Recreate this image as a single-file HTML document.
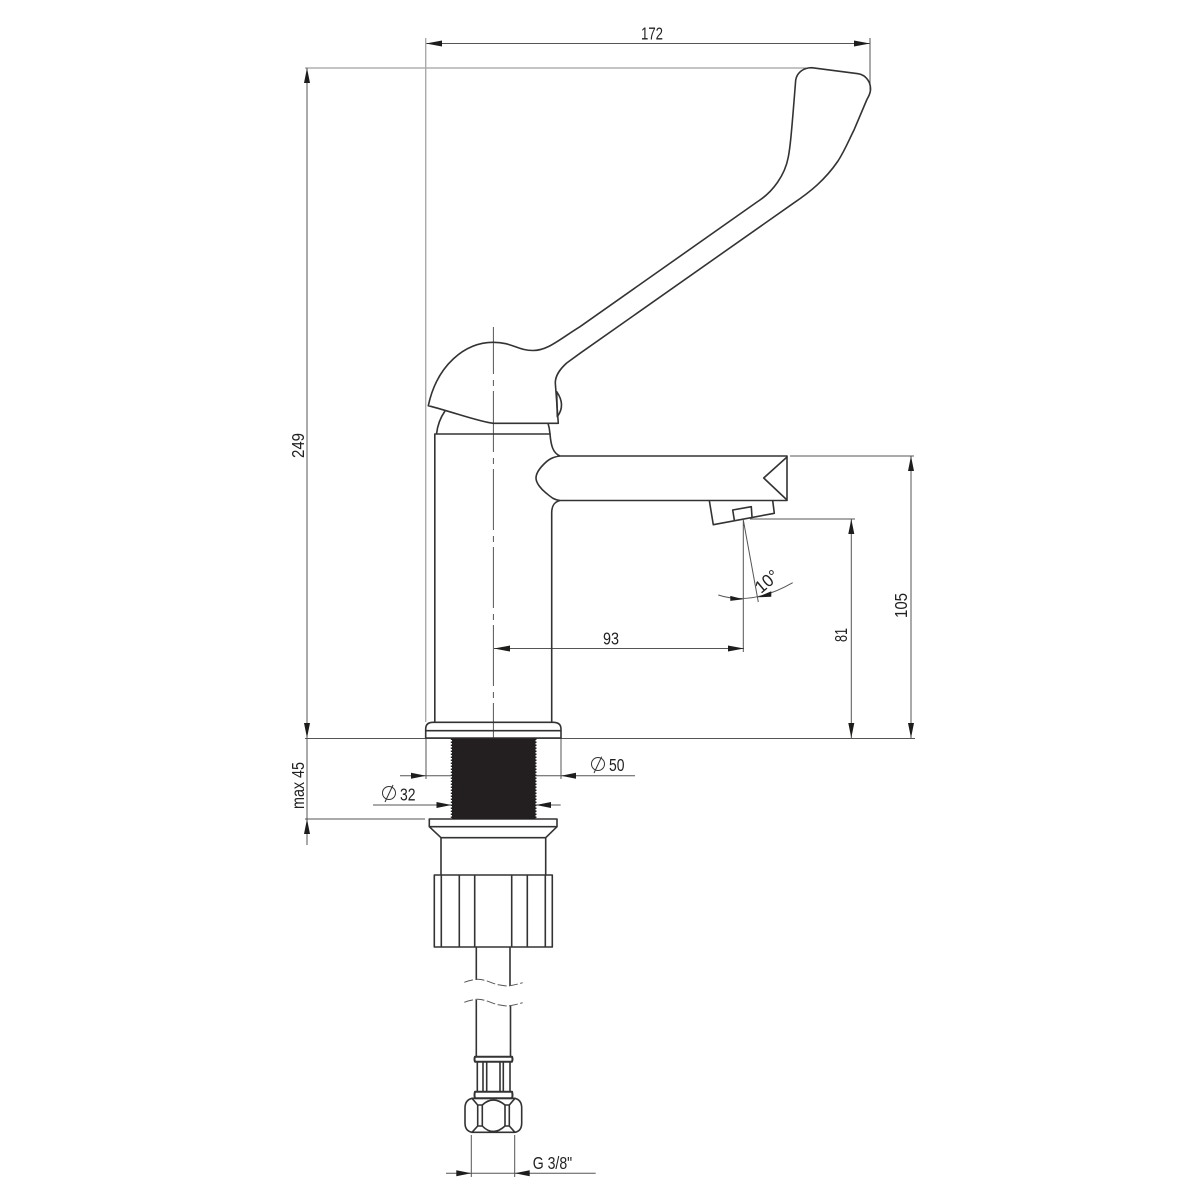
<!DOCTYPE html>
<html><head><meta charset="utf-8"><style>html,body{margin:0;padding:0;background:#fff}svg{display:block}text{font-family:"Liberation Sans",sans-serif;font-size:17.5px;fill:#222}</style></head><body>
<svg width="1200" height="1200" viewBox="0 0 1200 1200" xmlns="http://www.w3.org/2000/svg">
<rect width="1200" height="1200" fill="#fff"/>
<!-- dimension lines -->
<g fill="none" stroke="#555" stroke-width="1">
<path d="M426 43.5H870M870 38V90"/>
<path d="M305 68H806" stroke="#888"/>
<path d="M307 68V845"/>
<path d="M305 738.5H915"/>
<path d="M305 819H425"/>
<path d="M790 456H914M911 456V738"/>
<path d="M750 519H855M851.3 519V738"/>
<path d="M743.3 520V652M743.3 520L758.3 602"/>
<path d="M718.3 595Q752 606 792.7 582.7"/>
<path d="M494 648.5H744"/>
<path d="M426 738V779M561 738V779M400 775.7H451.5M536 775.7H635"/>
<path d="M373 805H451.5M536 805H560.7"/>
<path d="M471.3 1135V1177M514.7 1135V1177M446 1173.3H595.7"/>
</g>
<path d="M425.7 38V722" fill="none" stroke="#aaa" stroke-width="1.4"/>
<path d="M493.4 327V738" fill="none" stroke="#555" stroke-width="1" stroke-dasharray="61 6 6 5" stroke-dashoffset="14"/>
<!-- arrowheads -->
<g fill="#1d1d1b">
<path d="M426 43.5l16-3v6zM870 43.5l-16-3v6z"/>
<path d="M307 68l-3 15h6zM307 738l-3-15h6zM307 819l-3 15h6z"/>
<path d="M911 456l-3 15h6zM911 738l-3-15h6z"/>
<path d="M851.3 519l-3 15h6zM851.3 738l-3-15h6z"/>
<path d="M494 648.5l16-3v6zM744 648.5l-16-3v6z"/>
<path d="M426 775.7l-15-3v6zM561 775.7l15-3v6z"/>
<path d="M451.5 805l-15-3v6zM536 805l15-3v6z"/>
<path d="M471.3 1173.3l-15-3v6zM514.7 1173.3l15-3v6z"/>
<path d="M743.3 599.3l-13-3.4v5zM757.3 597.3l14-6v5.5z"/>
</g>
<!-- faucet outline -->
<g fill="none" stroke="#333" stroke-width="1.6" stroke-linejoin="round">
<path d="M428.3 405.7C437 365 465 342.3 493.3 342.3C512 342.3 518 350.5 533 350.5C548 350.5 560 339 580 326.7L757 202C773 192 785 175 788.3 157C790 148 791 140 795.7 80C797 72 804 67.7 811.7 67.7L858 73.7C866 75 871 82 870.5 90C870 95 868 97 866.7 100L854 130C848 142 845 150 838 161C825 180 810 192 793.3 203.3L580 353.3L566.7 363C559 370 555.3 376 555.3 383L558.3 423.3H493.3C480 422 456 413 428.3 405.7Z"/>
<path d="M556.7 391.7L557.3 416.7Q566 405 556.7 391.7Z"/>
<path d="M445 411Q438 421 436.5 434M548 423.3Q549.5 428 550 434"/>
<path d="M434.8 722V434H550C551 446 553 453 560 456H787V500.5H560C554 502 551.7 506 551.7 513V722"/>
<path d="M560 456C552 457 548 460 544 464C540 468 536 473 536 478C536 483 541 489 546 493C551 497 554 500 560 500.5"/>
<path d="M787 457L763.7 478L787 500"/>
<path d="M709.3 500.5L713.3 524.7L774.3 513.3L772.7 500.5"/>
<path d="M734.3 520L732.7 510L751.3 506.7L752 517"/>
<path d="M425.7 738V729Q425.7 722.3 433 722.3H553Q561 722.3 561 729V738ZM425.7 730.7H561"/>
<path d="M429.3 819H557V826.7H429.3ZM429.3 826.7L441 837.7H545.7L557 826.7M441 837.7V875M545.7 837.7V875"/>
<path d="M434.3 875H552.3V947H434.3ZM441.3 875V947M459.3 875V947M474.7 875V947M511.7 875V947M527.3 875V947M545.3 875V947"/>
<path d="M476.3 947V980M510 947V986M476.3 1000V1056M510.5 1006V1056"/>
<path d="M475 1056.7H512Q513 1059 512 1061.7H475Q474 1059 475 1056.7Z" stroke-width="2"/>
<path d="M477.3 1062V1092M510 1062V1092M483 1062V1092M486.7 1062V1092M500 1062V1092M503.3 1062V1092"/>
<path d="M475 1091.7H512Q513 1095 512 1098.3H475Q474 1095 475 1091.7Z" stroke-width="2"/>
<path d="M472 1098.3H515Q521.7 1100 521.7 1108V1123Q521.7 1131 515 1132.3H472Q465 1131 465 1123V1108Q465 1100 472 1098.3Z"/>
<path d="M477.7 1105V1126M482.3 1105V1126M505 1105V1126M509.3 1105V1126"/>
<path d="M472 1098.3L477.7 1105H482.3Q493 1095 505 1105H509.3L515 1098.3M472 1132.3L477.7 1126H482.3Q493 1137 505 1126H509.3L515 1132.3"/>
</g>
<g fill="none" stroke="#555" stroke-width="1">
<path d="M464.3 982.3Q470 980 476.7 979.3C486 979 492 984 500 985Q505 986 508 986Q515 985 522.7 982.7" stroke-dasharray="9 2.5"/>
<path d="M464.3 1002.3Q470 1000 476.7 999.3C486 999 492 1004 500 1005Q505 1006 508 1006Q515 1005 522.7 1002.7" stroke-dasharray="9 2.5"/>
</g>
<!-- thread -->
<rect x="452" y="738.5" width="83.5" height="80.5" fill="#231f20"/>
<path d="M451.5 738.5V819M535.8 738.5V819" stroke="#231f20" stroke-width="1.4" stroke-dasharray="1.5 1.5" fill="none"/>
<!-- diameter symbols -->
<g fill="none" stroke="#333" stroke-width="1">
<circle cx="598" cy="764" r="6.5"/><path d="M594 773L601.7 756.7"/>
<circle cx="389" cy="793" r="6.5"/><path d="M385 802L393 785"/>
</g>
<!-- labels -->
<text x="641" y="39.5" textLength="22" lengthAdjust="spacingAndGlyphs">172</text>
<text x="603" y="644.5" textLength="16" lengthAdjust="spacingAndGlyphs">93</text>
<text transform="translate(304,458) rotate(-90)" textLength="25" lengthAdjust="spacingAndGlyphs">249</text>
<text transform="translate(304,809) rotate(-90)" textLength="47" lengthAdjust="spacingAndGlyphs">max 45</text>
<text transform="translate(907,618) rotate(-90)" textLength="25" lengthAdjust="spacingAndGlyphs">105</text>
<text transform="translate(847,642) rotate(-90)" textLength="14" lengthAdjust="spacingAndGlyphs">81</text>
<text x="609" y="771" textLength="15.5" lengthAdjust="spacingAndGlyphs">50</text>
<text x="400" y="800.7" textLength="15.5" lengthAdjust="spacingAndGlyphs">32</text>
<text x="532.7" y="1169" textLength="39.5" lengthAdjust="spacingAndGlyphs">G 3/8"</text>
<text transform="translate(761,594) rotate(-40)" textLength="25" lengthAdjust="spacingAndGlyphs">10°</text>
</svg>
</body></html>
